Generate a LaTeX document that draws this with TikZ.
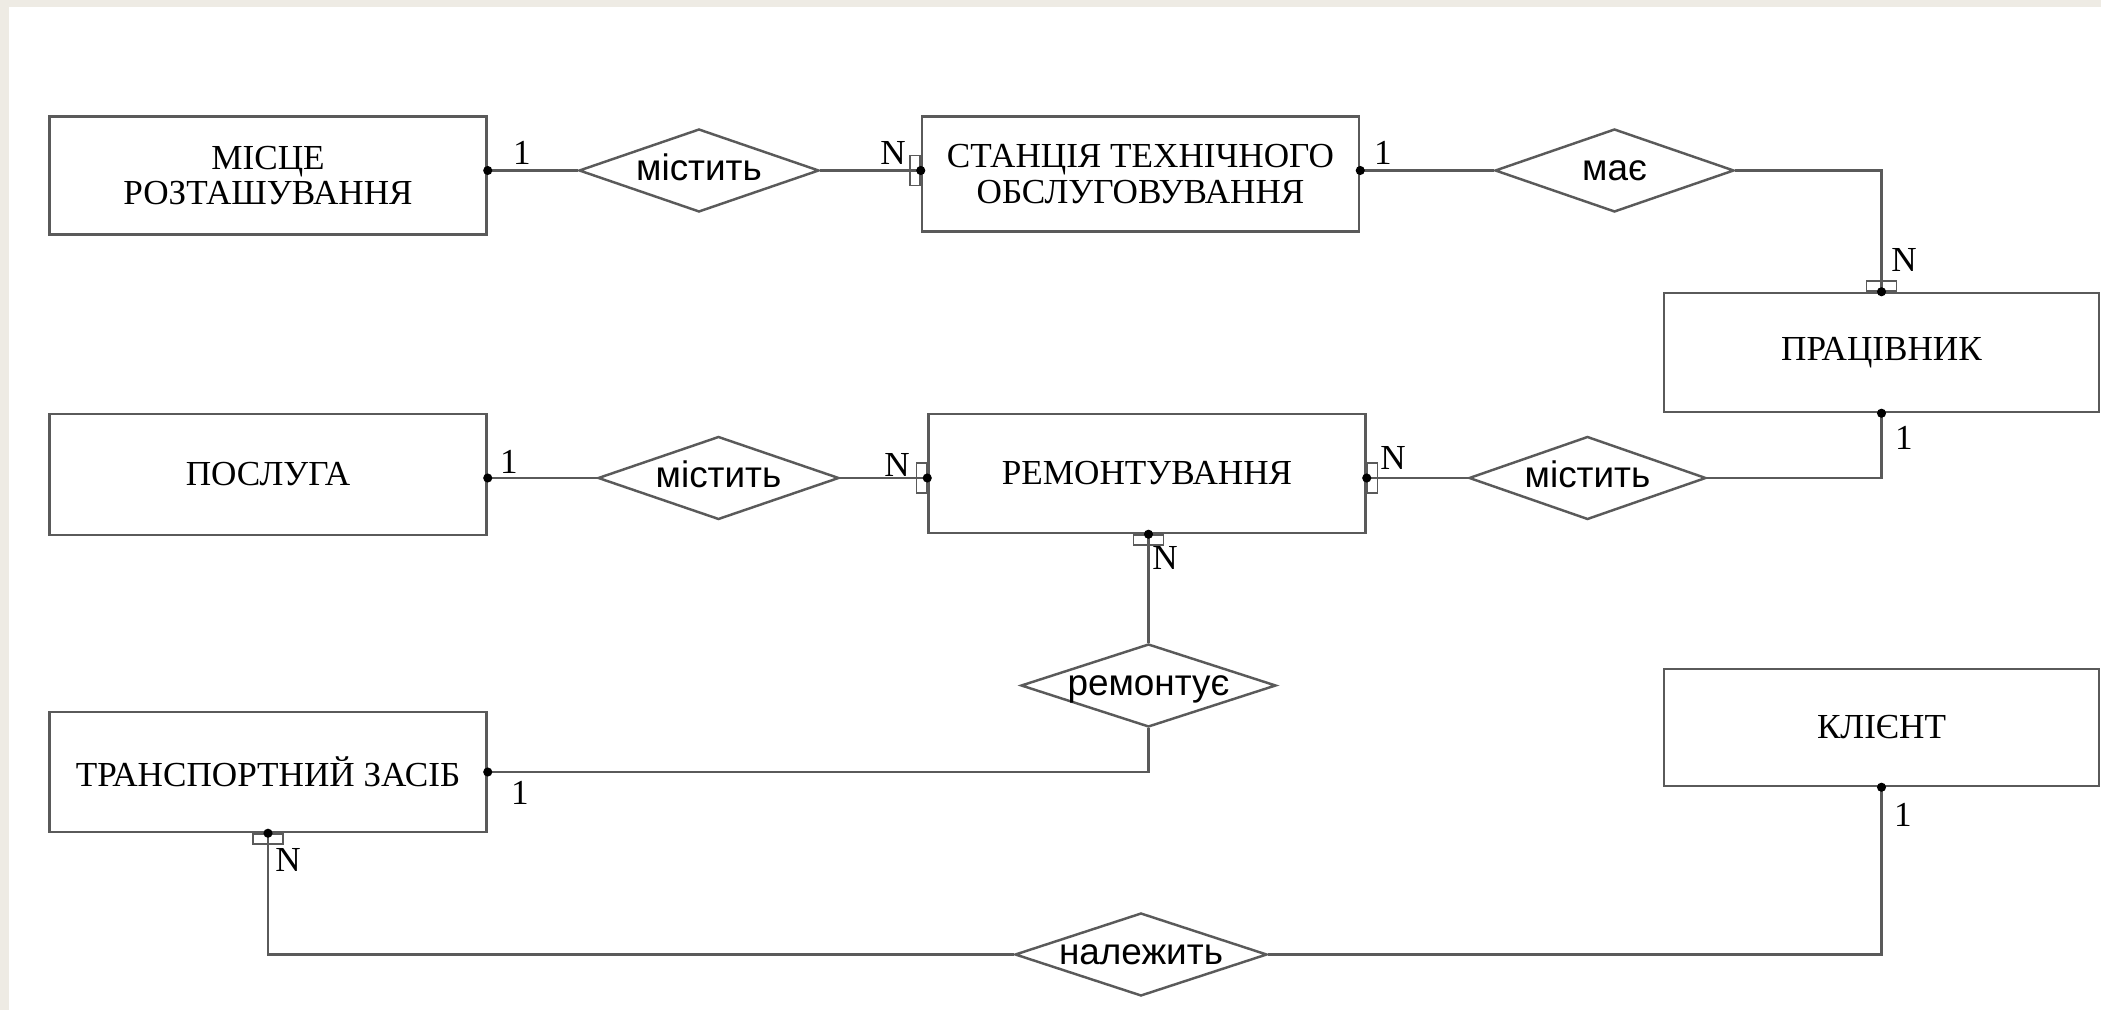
\documentclass[tikz,border=0pt]{standalone}
\usepackage{fontspec}
\setmainfont{Liberation Serif}
\newfontfamily\relfont{Liberation Sans}
\usetikzlibrary{shapes.geometric}
\definecolor{edgegray}{RGB}{90,90,90}
\definecolor{pagebeige}{RGB}{238,235,228}

\begin{document}
\begin{tikzpicture}[
  entity/.style={draw=edgegray, line width=0.7pt, minimum width=4.37cm, minimum height=1.18cm,
    inner sep=0pt, align=center, font=\fontsize{10}{10}\selectfont},
  rel/.style={diamond, draw=edgegray, line width=0.7pt, aspect=3.2, inner sep=0pt,
    text height=0.2cm, text depth=0pt, minimum width=2.4cm, minimum height=0.83cm,
    font=\relfont\fontsize{10.5}{12}\selectfont},
  card/.style={inner sep=0pt, font=\fontsize{10}{12}\selectfont},
  link/.style={draw=edgegray, line width=0.6pt},
  nside/.style={draw=edgegray, line width=0.45pt, minimum width=0.1cm, minimum height=0.3cm, inner sep=0pt},
  ntop/.style={nside, minimum width=0.3cm, minimum height=0.1cm}
]
  % Page
  \fill[pagebeige] (0,0) rectangle (21.01,10.10);
  \fill[white] (0.087,0) rectangle (21.01,10.03);

  % Entities
  \node[entity] (misce) at (2.68,8.345) {МІСЦЕ\\РОЗТАШУВАННЯ};
  \node[entity, minimum height=1.15cm] (stan) at (11.405,8.36) {СТАНЦІЯ ТЕХНІЧНОГО\\ОБСЛУГОВУВАННЯ};
  \node[entity, minimum width=4.35cm, minimum height=1.19cm] (prac) at (18.815,6.575) {ПРАЦІВНИК};
  \node[entity, minimum height=1.21cm] (posl) at (2.68,5.355) {ПОСЛУГА};
  \node[entity, minimum height=1.19cm] (rem) at (11.47,5.365) {РЕМОНТУВАННЯ};
  \node[entity, minimum height=1.20cm] (trans) at (2.68,2.38) {ТРАНСПОРТНИЙ ЗАСІБ};
  \node[entity, minimum width=4.35cm, minimum height=1.17cm] (klient) at (18.815,2.825) {КЛІЄНТ};

  % Relationships
  \node[rel] (mis1) at (6.99,8.395) {містить};
  \node[rel, minimum width=2.39cm] (mae) at (16.145,8.395) {має};
  \node[rel, minimum width=2.41cm] (mis2) at (7.185,5.32) {містить};
  \node[rel, minimum width=2.37cm] (mis3) at (15.875,5.32) {містить};
  \node[rel, minimum width=2.55cm] (remt) at (11.485,3.245) {ремонтує};
  \node[rel, minimum width=2.52cm] (nal) at (11.41,0.555) {належить};

  % Links
  \draw[link] (mis1.west) -- (mis1.west -| misce.east) coordinate (e1);
  \draw[link] (mis1.east) -- (mis1.east -| stan.west) coordinate (e2);
  \draw[link] (mae.west) -- (mae.west -| stan.east) coordinate (e3);
  \draw[link] (mae.east) -| (prac.north) coordinate (e4);
  \draw[link] (mis2.west) -- (mis2.west -| posl.east) coordinate (e5);
  \draw[link] (mis2.east) -- (mis2.east -| rem.west) coordinate (e6);
  \draw[link] (mis3.west) -- (mis3.west -| rem.east) coordinate (e7);
  \draw[link] (mis3.east) -| (prac.south) coordinate (e8);
  \draw[link] (remt.north) -- (remt.north |- rem.south) coordinate (e9);
  \draw[link] (remt.south) |- (trans.east) coordinate (e10);
  \draw[link] (nal.west) -| (trans.south) coordinate (e11);
  \draw[link] (nal.east) -| (klient.south) coordinate (e12);

  % Many-side marks
  \node[nside, anchor=east] (nm1) at (e2) {};
  \node[ntop, anchor=south] (nm2) at (e4) {};
  \node[nside, anchor=east] (nm3) at (e6) {};
  \node[nside, anchor=west] (nm4) at (e7) {};
  \node[ntop, anchor=north] (nm5) at (e9) {};
  \node[ntop, anchor=north] (nm6) at (e11) {};

  \foreach \p in {e1,e2,e3,e4,e5,e6,e7,e8,e9,e10,e11,e12}
    \fill (\p) circle (1.3pt);

  % Cardinalities
  \node[card] (c1) at (5.22,8.57) {1};
  \node[card] (c2) at (8.93,8.57) {N};
  \node[card] (c3) at (13.83,8.57) {1};
  \node[card] (c4) at (19.04,7.50) {N};
  \node[card] (c5) at (19.04,5.72) {1};
  \node[card] (c6) at (5.09,5.48) {1};
  \node[card] (c7) at (8.97,5.45) {N};
  \node[card] (c8) at (13.93,5.52) {N};
  \node[card] (c9) at (11.65,4.52) {N};
  \node[card] (c10) at (5.20,2.17) {1};
  \node[card] (c11) at (19.03,1.95) {1};
  \node[card] (c12) at (2.88,1.50) {N};
\end{tikzpicture}
\end{document}
